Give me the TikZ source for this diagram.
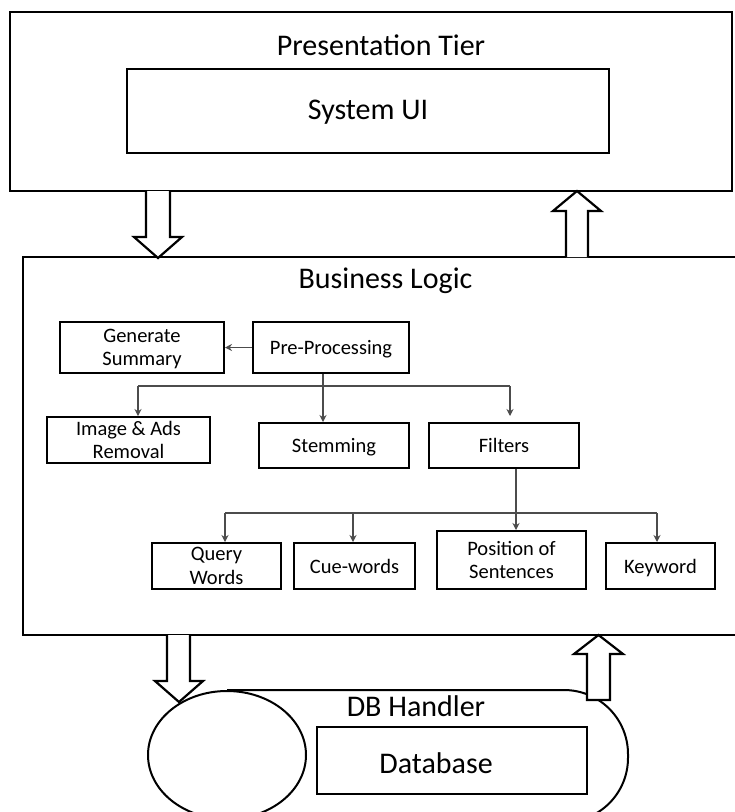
\documentclass[tikz,border=0pt]{standalone}
\usepackage{fontspec}
\setmainfont{Carlito}
\usetikzlibrary{arrows.meta}
\begin{document}
\begin{tikzpicture}[x=1pt,y=-1pt,
  big/.style={font=\fontsize{30}{36}\selectfont, inner sep=0pt},
  small/.style={font=\fontsize{20.5}{23.5}\selectfont, align=center, text depth=0pt},
  tier/.style={draw, line width=2.4pt, inner sep=0pt},
  box/.style={draw, line width=2pt, inner sep=0pt, small},
  conn/.style={draw=black!70, line width=1.1pt},
  arr/.style={conn, -{Stealth[length=7pt,width=7pt]}},
  hollow/.style={draw, line width=2.2pt, line join=miter, fill=white}
]
\useasboundingbox (0,0) rectangle (735,812);
\clip (0,0) rectangle (735,812);

% Presentation tier
\node[tier, minimum width=722pt, minimum height=179pt] (pres) at (371,101.5) {};
\node[big] (prest) at (381,45) {Presentation Tier};
\node[tier, line width=2pt, minimum width=482pt, minimum height=84pt] (ui) at (368,111) {};
\node[big] (uit) at (368,112) {System UI};

% Business logic container
\coordinate (blTL) at (23,257);
\coordinate (blTR) at (736,257);
\coordinate (blML) at (23,295);
\coordinate (blBL) at (23,635);
\coordinate (blBR) at (736,635);
\draw[line width=2.6pt] (blTR) -- (blTL) -- (blML);
\draw[line width=1.3pt] (blML) -- (blBL) -- (blBR);
\node[big] (blt) at (385.5,281) {Business Logic};

% Boxes
\node[box, minimum width=164pt, minimum height=51pt] (gs) at (142,347.5) {Generate\\Summary};
\node[box, minimum width=156pt, minimum height=51pt] (pp) at (331,347.5) {Pre-Processing};
\node[box, minimum width=163pt, minimum height=46pt] (ia) at (128.5,440) {Image \& Ads\\Removal};
\node[box, minimum width=150pt, minimum height=45pt] (st) at (334,445.5) {Stemming};
\node[box, minimum width=150pt, minimum height=45pt] (fi) at (504,445.5) {Filters};
\node[box, minimum width=129pt, minimum height=46pt] (qw) at (216.5,566) {Query\\Words};
\node[box, minimum width=121pt, minimum height=46pt] (cw) at (354.5,566) {Cue-words};
\node[box, minimum width=149pt, minimum height=58pt] (ps) at (511.5,560) {Position of\\Sentences};
\node[box, minimum width=109pt, minimum height=46pt] (kw) at (660.5,566) {Keyword};

% Connectors
\draw[arr] (pp.west) -- (gs.east);
\coordinate (b0) at (323,386);
\coordinate (b1) at (138,386);
\coordinate (b2) at (510,386);
\draw[conn] (pp.south -| b0) -- (b0);
\draw[conn] (b1) -- (b2);
\draw[arr] (b1) -- (b1 |- ia.north);
\draw[arr] (b0) -- (b0 |- st.north);
\draw[arr, shorten >=6pt] (b2) -- (b2 |- fi.north);

\coordinate (f0) at (516,513);
\coordinate (f1) at (225,513);
\coordinate (f2) at (353,513);
\coordinate (f3) at (657,513);
\draw[conn] (fi.south -| f0) -- (f0);
\draw[conn] (f1) -- (f3);
\draw[arr] (f0) -- (f0 |- ps.north);
\draw[arr] (f1) -- (f1 |- qw.north);
\draw[arr] (f2) -- (f2 |- cw.north);
\draw[arr] (f3) -- (f3 |- kw.north);

% DB handler cylinder
\draw[line width=2pt, rounded corners=64pt] (227,690) -- (628,690) -- (628,822) -- (227,822);
\draw[line width=2pt, fill=white] (227,755) ellipse [x radius=79pt, y radius=64pt];
\node[big] (dbh) at (416,706) {DB Handler};
\node[draw, line width=2pt, minimum width=270pt, minimum height=67pt] (db) at (452,760.5) {};
\node[big] (dbt) at (436,763) {Database};

% Hollow arrows
\draw[hollow] (146,191) -- (146,237) -- (134,237) -- (158,258) -- (182,237) -- (170,237) -- (170,191);
\draw[hollow] (566,257) -- (566,211) -- (553,211) -- (577,191) -- (601,211) -- (588,211) -- (588,257);
\draw[hollow] (167,635) -- (167,681) -- (155,681) -- (179,702) -- (203,681) -- (190,681) -- (190,635);
\draw[hollow] (598.5,635) -- (623,654) -- (610,654) -- (610,700) -- (587,700) -- (587,654) -- (574,654) -- cycle;
\end{tikzpicture}
\end{document}
